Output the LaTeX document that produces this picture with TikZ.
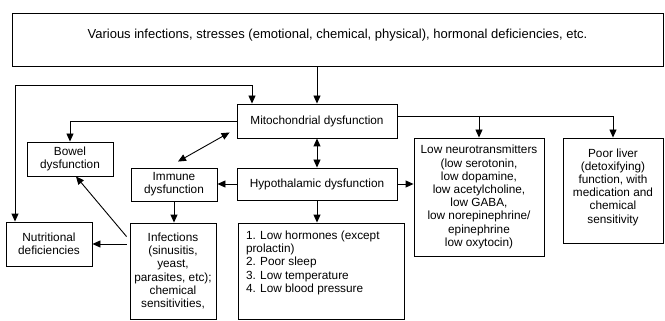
\documentclass[tikz,border=0pt]{standalone}
\usepackage{fontspec}
\setmainfont{Liberation Sans}
\usetikzlibrary{arrows.meta, calc}

\begin{document}
\begin{tikzpicture}[x=1pt, y=-1pt,
    box/.style={draw, line width=0.9pt, align=center, inner sep=2pt,
      font=\fontsize{11.8}{13.2}\selectfont},
    arr/.style={line width=0.9pt, -{Triangle[length=8pt, width=7pt]}},
    arrboth/.style={line width=0.9pt, {Triangle[length=8pt, width=7pt]}-{Triangle[length=8pt, width=7pt]}}]
  \useasboundingbox (0,0) rectangle (665,321);
  %--- boxes ---
  \node[box, minimum width=651, minimum height=53, font=\fontsize{13}{15}\selectfont] (causes) at (337.5,39.5)
    {Various infections, stresses (emotional, chemical, physical), hormonal deficiencies, etc.\\[-3pt]};
  \node[box, minimum width=160, minimum height=34] (mito) at (317,121) {Mitochondrial dysfunction};
  \node[box, minimum width=160, minimum height=32] (hypo) at (317,184) {Hypothalamic dysfunction};
  \node[box, minimum width=86, minimum height=34] (bowel) at (70,159) {Bowel\\dysfunction};
  \node[box, minimum width=86, minimum height=33] (immune) at (174,184.5) {Immune\\dysfunction};
  \node[box, minimum width=86, minimum height=44] (nutr) at (49,244) {Nutritional\\deficiencies};
  \node[box, minimum width=86, minimum height=96] (infect) at (173,271)
    {Infections\\(sinusitis,\\yeast,\\parasites, etc);\\chemical\\sensitivities,};
  \node[box, inner sep=8pt, align=left] (lows) at (321,271)
    {\parbox[t][80pt][t]{150pt}{\raggedright\hyphenpenalty=10000
      1. Low hormones (except prolactin)\\2. Poor sleep\\3. Low temperature\\4. Low blood pressure}};
  \node[box, minimum width=130, minimum height=118] (neuro) at (479,197)
    {Low neurotransmitters\\(low serotonin,\\low dopamine,\\low acetylcholine,\\low GABA,\\low norepinephrine/\\epinephrine\\low oxytocin)};
  \node[box, minimum width=100, minimum height=105] (liver) at (613,190.5)
    {Poor liver\\(detoxifying)\\function, with\\medication and\\chemical\\sensitivity\\[-4pt]};
  %--- connectors ---
  \draw[arr] (causes.south -| mito.north) -- (mito.north);
  \coordinate (loopL) at (15,85);
  \draw[arrboth] ([xshift=-65pt]mito.north) |- (loopL) -- (loopL |- nutr.north);
  \draw[arr] (mito.west) -| (bowel.north);
  \draw[arrboth] ([shift={(-7pt,6pt)}]mito.south west) -- ([shift={(4pt,6pt)}]immune.north);
  \draw[arrboth] (mito.south) -- (hypo.north);
  \coordinate (mitoR) at ([yshift=5pt]mito.east);
  \draw[arr] (mitoR) -| (liver.north);
  \draw[arr] (mitoR -| neuro.north) -- (neuro.north);
  \draw[arr] (hypo.west) -- (hypo.west -| immune.east);
  \draw[arr] (hypo.east) -- (hypo.east -| neuro.west);
  \draw[arr] (hypo.south) -- (hypo.south |- lows.north);
  \draw[arr] (immune.south) -- (immune.south |- infect.north);
  \draw[arr] ([xshift=-3pt]infect.west |- nutr.east) -- (nutr.east);
  \draw[arr] ([shift={(-3pt,-14pt)}]infect.north west) -- ([xshift=6pt]bowel.south);
\end{tikzpicture}
\end{document}
